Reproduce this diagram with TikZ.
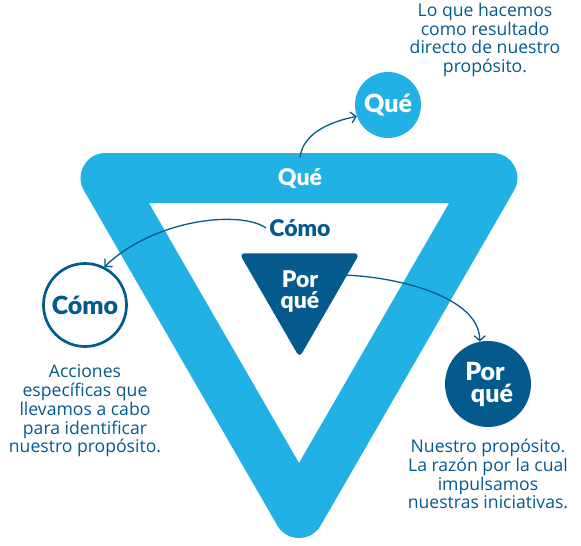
\documentclass[tikz,border=0pt]{standalone}
\usepackage{fontspec}
\setmainfont{Open Sans}
\newfontfamily\heavy{Lato Black}
\usetikzlibrary{arrows.meta,shapes.geometric}
\definecolor{cyanb}{HTML}{21B1E5}
\definecolor{navy}{HTML}{045A8D}
\begin{document}
\begin{tikzpicture}[x=1pt,y=-1pt,
  desc/.style={text=navy, align=center, font=\fontsize{17.6}{18.8}\selectfont},
  lbl/.style={font=\heavy\fontsize{23}{22}\selectfont},
  lblbig/.style={font=\heavy\fontsize{25}{22}\selectfont},
  conn/.style={draw=navy, line width=1.3pt, -{Straight Barb[length=5pt,width=11pt,line width=1.3pt]}},
]
\useasboundingbox (0,0) rectangle (581,546);
% big band triangle
\draw[cyanb, line width=50pt, line join=round] (105.6,178) -- (492.4,178) -- (299,513) -- cycle;
% labels on band
\node[lbl, text=white] (queband) at (300,179) {Qué};
\node[lbl, text=navy] (comot) at (300,228) {Cómo};
% inner dark triangle
\node[regular polygon, regular polygon sides=3, shape border rotate=180, fill=navy,
      minimum size=139pt, inner sep=0pt, rounded corners=5pt] (pq) at (299.5,288) {};
\node[lbl, text=white, inner sep=0pt] (pqt1) at (300,279) {Por};
\node[lbl, text=white, inner sep=0pt] (pqt2) at (300,302) {qué};
% circles
\node[circle, fill=cyanb, minimum size=66pt, inner sep=0pt, lblbig, text=white] (quec) at (388,105) {Qué};
\node[circle, draw=navy, line width=2.7pt, fill=white, minimum size=83pt, inner sep=0pt, lblbig, text=navy] (comoc) at (85,305) {Cómo};
\node[circle, fill=navy, minimum size=86pt, inner sep=0pt] (pqc) at (488,384) {};
\node[lblbig, text=white, inner sep=0pt] (pqc1) at (485,371) {Por};
\node[lblbig, text=white, inner sep=0pt] (pqc2) at (492,395) {qué};
% descriptions
\node[desc] (qued) at (485,40) {Lo que hacemos\\como resultado\\directo de nuestro\\propósito.};
\node[desc] (comod) at (85,411) {Acciones\\específicas que\\llevamos a cabo\\para identificar\\nuestro propósito.};
\node[desc] (pqd) at (488,474) {Nuestro propósito.\\La razón por la cual\\impulsamos\\nuestras iniciativas.};
% connectors
\draw[conn] ([yshift=8pt]queband.north) .. controls +(3,-25) and +(-25,5) .. (quec.200);
\draw[conn] (comot.west) .. controls +(-25,-18) and +(50,-48) .. (comoc.63);
\draw[conn] (pq.15) .. controls +(50,2) and +(0,-45) .. (pqc.101);
\end{tikzpicture}
\end{document}
